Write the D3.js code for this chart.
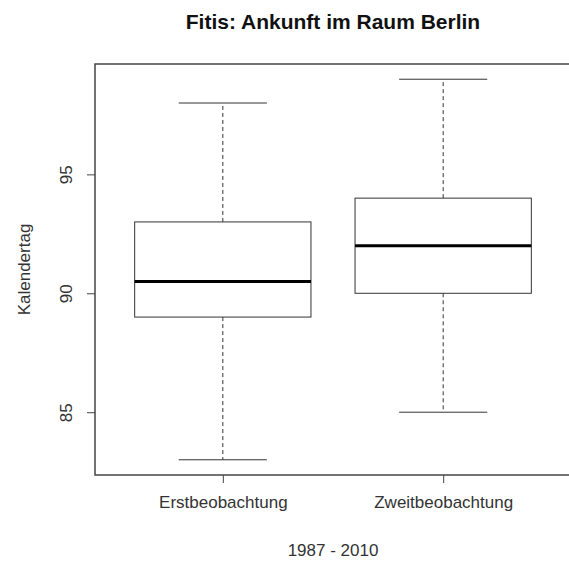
<!DOCTYPE html>
<html lang="de">
<head>
    <meta charset="UTF-8">
    <script src="https://d3js.org/d3.v7.min.js"></script>
    <style>
        body {margin: 0; background-color: #ffffff}
        svg {display: block; font-family: "Liberation Sans", Arial, sans-serif}
    </style>
</head>
<body>
<svg class="chart"></svg>
<script type="text/javascript">
    let groups = ['Erstbeobachtung', 'Zweitbeobachtung'];
    let mins = [83, 85];
    let q1s = [89, 90];
    let medians = [90.5, 92];
    let q3s = [93, 94];
    let maxs = [98, 99];
    let y_ticks = [85, 90, 95];

    let chart_width = 569;
    let chart_height = 563;
    let plot_left = 95, plot_top = 64, plot_bottom = 475, plot_right = 571;

    var svg = d3.select('.chart')
        .attr('width', chart_width)
        .attr('height', chart_height);

    // R style: x range 0.5 .. n+0.5, extended by 4%
    var x_range = d3.scaleLinear()
        .domain([0.42, 2.58])
        .range([plot_left, plot_right]);

    var y_range = d3.scaleLinear()
        .domain([82.36, 99.64])
        .range([plot_bottom, plot_top]);

    var boxes = groups.map((g, i) => ({
        name: g, pos: i + 1, min: mins[i], q1: q1s[i], med: medians[i], q3: q3s[i], max: maxs[i]
    }));

    var g = svg.selectAll('g.box').data(boxes).enter().append('g').attr('class', 'box');

    // whiskers (dashed)
    g.append('line')
        .attr('x1', d => x_range(d.pos)).attr('x2', d => x_range(d.pos))
        .attr('y1', d => y_range(d.q3)).attr('y2', d => y_range(d.max))
        .attr('stroke', '#333').attr('stroke-dasharray', '4,3');
    g.append('line')
        .attr('x1', d => x_range(d.pos)).attr('x2', d => x_range(d.pos))
        .attr('y1', d => y_range(d.q1)).attr('y2', d => y_range(d.min))
        .attr('stroke', '#333').attr('stroke-dasharray', '4,3');

    // staples
    ['min', 'max'].forEach(k => {
        g.append('line')
            .attr('x1', d => x_range(d.pos - 0.2)).attr('x2', d => x_range(d.pos + 0.2))
            .attr('y1', d => y_range(d[k])).attr('y2', d => y_range(d[k]))
            .attr('stroke', '#333');
    });

    // box
    g.append('rect')
        .attr('x', d => x_range(d.pos - 0.4))
        .attr('width', d => x_range(d.pos + 0.4) - x_range(d.pos - 0.4))
        .attr('y', d => y_range(d.q3))
        .attr('height', d => y_range(d.q1) - y_range(d.q3))
        .attr('fill', 'none').attr('stroke', '#333');

    // median
    g.append('line')
        .attr('x1', d => x_range(d.pos - 0.4)).attr('x2', d => x_range(d.pos + 0.4))
        .attr('y1', d => y_range(d.med)).attr('y2', d => y_range(d.med))
        .attr('stroke', '#000').attr('stroke-width', 3);

    // plot frame
    svg.append('rect')
        .attr('x', plot_left).attr('y', plot_top)
        .attr('width', plot_right - plot_left).attr('height', plot_bottom - plot_top)
        .attr('fill', 'none').attr('stroke', '#444').attr('stroke-width', 1.5);

    // y axis
    var y_axis = svg.append('g')
        .attr('transform', 'translate(' + plot_left + ',0)')
        .call(d3.axisLeft(y_range).tickValues(y_ticks).tickSize(8).tickPadding(4));
    y_axis.select('.domain').remove();
    y_axis.selectAll('line').attr('stroke', '#444');
    y_axis.selectAll('text')
        .attr('font-size', 17).attr('fill', '#333')
        .attr('transform', 'rotate(-90)')
        .attr('text-anchor', 'middle')
        .attr('x', 0).attr('y', -29).attr('dy', '0.35em');

    // x axis
    var x_axis = svg.append('g')
        .attr('transform', 'translate(0,' + plot_bottom + ')')
        .call(d3.axisBottom(x_range).tickValues([1, 2]).tickFormat((d, i) => groups[i]).tickSize(8).tickPadding(13));
    x_axis.select('.domain').remove();
    x_axis.selectAll('line').attr('stroke', '#444');
    x_axis.selectAll('text').attr('font-size', 17).attr('fill', '#333');

    // titles
    svg.append('text')
        .attr('x', 333).attr('y', 29)
        .attr('text-anchor', 'middle')
        .attr('font-size', 21).attr('font-weight', 'bold').attr('fill', '#111')
        .text('Fitis: Ankunft im Raum Berlin');

    svg.append('text')
        .attr('x', 333).attr('y', 556)
        .attr('text-anchor', 'middle')
        .attr('font-size', 17).attr('fill', '#333')
        .text('1987 - 2010');

    svg.append('text')
        .attr('transform', 'translate(24,' + (plot_top + plot_bottom) / 2 + ') rotate(-90)')
        .attr('text-anchor', 'middle')
        .attr('dy', '0.35em')
        .attr('font-size', 17).attr('fill', '#333')
        .text('Kalendertag');
</script>
</body>
</html>
